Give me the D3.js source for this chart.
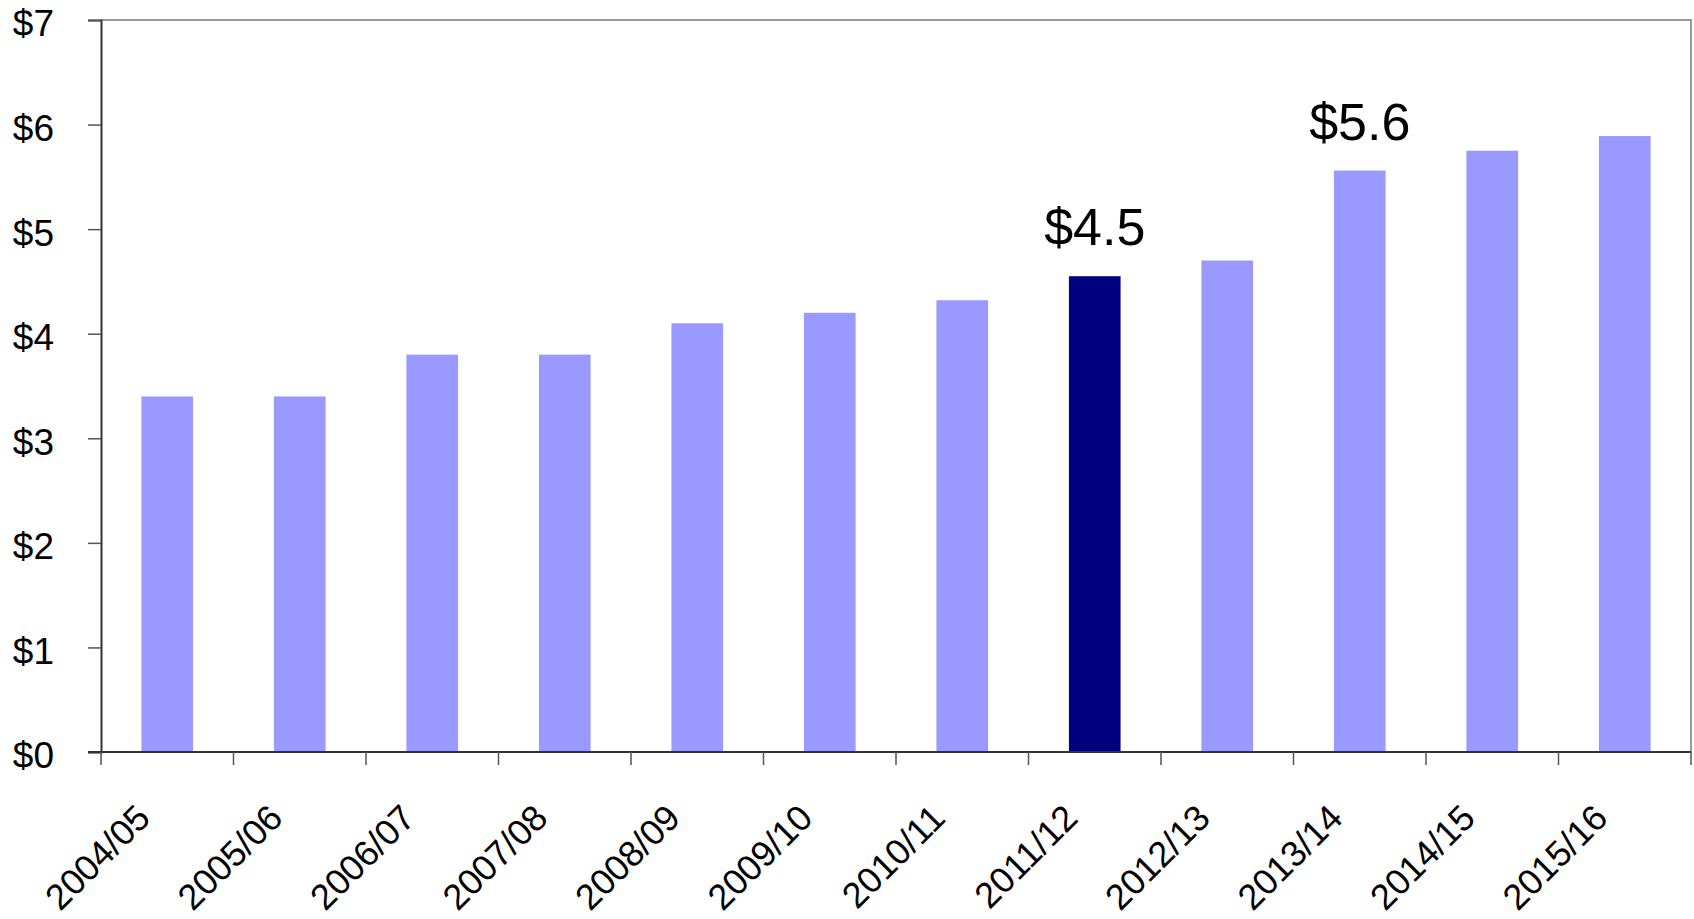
<!DOCTYPE html>
<html>
<head>
<meta charset="utf-8">
<script src="https://cdn.jsdelivr.net/npm/d3@7"></script>
<style>
  body { margin: 0; background: #fff; }
  text { font-family: "Liberation Sans", Arial, sans-serif; }
</style>
</head>
<body>
<div id="chart"></div>
<script>
let years = ["2004/05", "2005/06", "2006/07", "2007/08", "2008/09", "2009/10",
             "2010/11", "2011/12", "2012/13", "2013/14", "2014/15", "2015/16"];
let values = [3.4, 3.4, 3.8, 3.8, 4.1, 4.2, 4.32, 4.55, 4.7, 5.56, 5.75, 5.89];
let highlightYear = "2011/12";
let callouts = [
  { year: "2011/12", text: "$4.5" },
  { year: "2013/14", text: "$5.6" },
];
let yTicks = [0, 1, 2, 3, 4, 5, 6, 7];

const width = 1694;
const height = 919;
const margin = { top: 20, right: 3, bottom: 167, left: 101 };

const data = years.map((y, i) => ({ year: y, value: values[i] }));

const svg = d3.select('#chart')
  .append('svg')
  .attr('width', width)
  .attr('height', height);

const usable = {
  left: margin.left,
  right: width - margin.right,
  top: margin.top,
  bottom: height - margin.bottom,
};

// category scale (one step per year, ticks at the edges)
const xCat = d3.scaleBand().domain(years).range([usable.left, usable.right]);
// bar scale, 39% of each step
const xBar = d3.scaleBand().domain(years).range([usable.left, usable.right])
  .paddingInner(0.61).paddingOuter(0.305);
const yScale = d3.scaleLinear().domain([0, 7]).range([usable.bottom, usable.top]);

// frame top and right
svg.append('path')
  .attr('d', `M${usable.left},${usable.top}H${usable.right}V${usable.bottom}`)
  .attr('fill', 'none')
  .attr('stroke', '#999')
  .attr('stroke-width', 2);

// bars
svg.append('g')
  .selectAll('rect')
  .data(data)
  .join('rect')
  .attr('x', (d) => xBar(d.year))
  .attr('width', xBar.bandwidth())
  .attr('y', (d) => yScale(d.value))
  .attr('height', (d) => yScale(0) - yScale(d.value))
  .attr('fill', (d) => (d.year === highlightYear ? '#000080' : '#9999ff'));

// y axis
const yAxis = d3.axisLeft(yScale)
  .tickValues(yTicks)
  .tickSize(13)
  .tickPadding(34)
  .tickFormat((d) => '$' + d);

const yG = svg.append('g')
  .attr('transform', `translate(${usable.left},0)`)
  .call(yAxis);
yG.select('.domain').attr('stroke', '#333').attr('stroke-width', 2);
yG.selectAll('.tick line').attr('stroke', '#555').attr('stroke-width', 1.5);
yG.selectAll('.tick text')
  .attr('font-size', 37)
  .attr('fill', '#000')
  .attr('dy', '0.43em');

// x axis: ticks at category boundaries
const edges = years.map((y) => xCat(y)).concat([usable.right]);
const xG = svg.append('g');
xG.append('line')
  .attr('x1', usable.left - 13).attr('x2', usable.right)
  .attr('y1', usable.bottom).attr('y2', usable.bottom)
  .attr('stroke', '#333').attr('stroke-width', 2);
xG.selectAll('line.tk')
  .data(edges)
  .join('line')
  .attr('class', 'tk')
  .attr('x1', (d) => d).attr('x2', (d) => d)
  .attr('y1', usable.bottom).attr('y2', usable.bottom + 13)
  .attr('stroke', '#555').attr('stroke-width', 1.5);

xG.selectAll('text')
  .data(years)
  .join('text')
  .attr('font-size', 36)
  .attr('text-anchor', 'end')
  .attr('transform', (d) => {
    const cx = xCat(d) + xCat.bandwidth() / 2 - 15;
    return `translate(${cx},${usable.bottom + 68}) rotate(-45)`;
  })
  .text((d) => d);

// callout labels
svg.append('g')
  .selectAll('text')
  .data(callouts)
  .join('text')
  .attr('font-size', 52)
  .attr('text-anchor', 'middle')
  .attr('x', (d) => xBar(d.year) + xBar.bandwidth() / 2)
  .attr('y', (d) => yScale(values[years.indexOf(d.year)]) - 31)
  .text((d) => d.text);
</script>
</body>
</html>
